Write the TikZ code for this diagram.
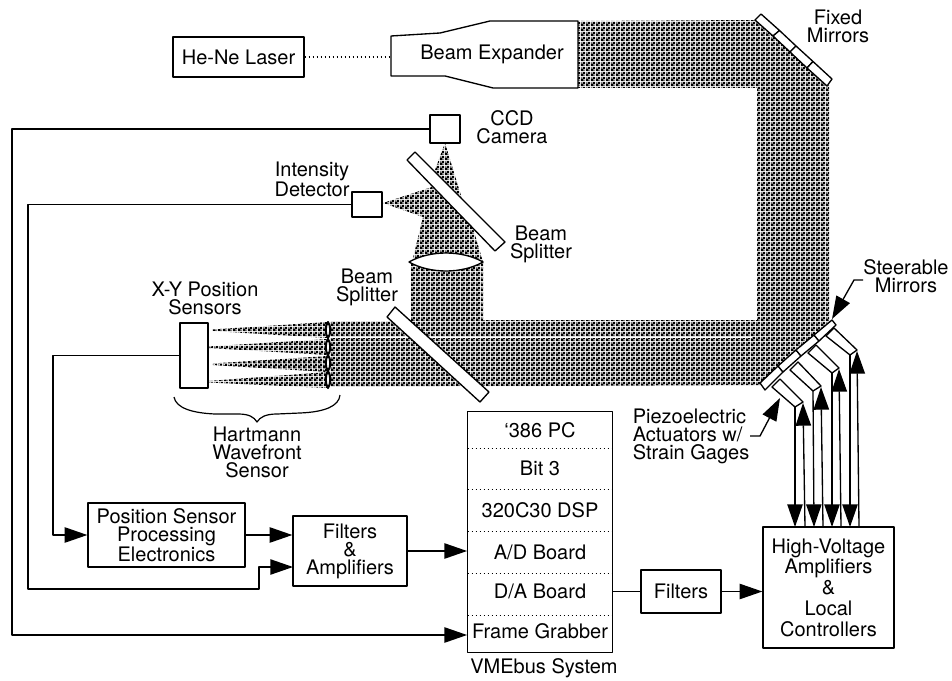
\documentclass[tikz,border=0pt]{standalone}
\usepackage{fontspec}
\setmainfont{TeX Gyre Heros}
\usepackage{tikz}
\usetikzlibrary{arrows.meta,patterns,fit}
\pgfdeclarepatternformonly{beamdots}{\pgfqpoint{0pt}{0pt}}{\pgfqpoint{3.4pt}{3.4pt}}{\pgfqpoint{3.4pt}{3.4pt}}{
  \pgfseteorule
  \pgfpathrectangle{\pgfqpoint{0pt}{0pt}}{\pgfqpoint{3.4pt}{3.4pt}}
  \pgfpathrectangle{\pgfqpoint{0.25pt}{2pt}}{\pgfqpoint{1.2pt}{1.2pt}}
  \pgfpathrectangle{\pgfqpoint{1.95pt}{0.3pt}}{\pgfqpoint{1.2pt}{1.2pt}}
  \pgfusepath{fill}}
\tikzset{
  every picture/.style={line join=round, >={Triangle[length=17pt,width=11.5pt]}},
  every node/.style={font=\fontsize{15}{13.5}\selectfont, align=center, inner sep=0pt},
  wire/.style={line width=1pt},
  optic/.style={draw, fill=white, line width=1pt},
  lenslet/.style={draw, fill=white, line width=1.5pt},
  box/.style={draw, fill=white, line width=1pt},
  beam/.style={pattern=beamdots, pattern color=black},
  slot/.style={minimum width=144*0.75pt},
  sep/.style={dotted, line width=1pt},
}
\begin{document}
\begin{tikzpicture}[x=0.75pt,y=-0.75pt]
\useasboundingbox (0,0) rectangle (952,681);
% beams
\fill[beam] (578,21)--(756,20)--(829,85)--(829,322)--(762,385)--(330,387)--(330,321)--(411,321)--(411,262)--(483,262)--(483,320)--(757,320)--(757,88)--(578,88)--cycle;
\draw[white,line width=0.6pt] (330,337)--(752,337);
\fill[beam] (413,258)--(423,217)--(383,203)--(432,187)--(473,228)--(483,262)--cycle;
\fill[beam] (445,143)--(432,178)--(463,202)--cycle;
\fill[beam] (328,322)--(212,329.5)--(212,331)--(328,338)--cycle;
\fill[beam] (328,339)--(208,346.5)--(208,348)--(328,355)--cycle;
\fill[beam] (328,356)--(212,363.5)--(212,365)--(328,372)--cycle;
\fill[beam] (328,372)--(208,381)--(208,382.5)--(328,388)--cycle;
% lenses and splitters
\draw[optic] (409,262) .. controls (430,250) and (462,250) .. (483,262) .. controls (462,274) and (430,274) .. (409,262) -- cycle;
\draw[optic] (415,152)--(505,242)--(495,251)--(407,160)--cycle;
\draw[optic] (395,307)--(489,392)--(480,402)--(387,317)--cycle;
\draw[lenslet] (328,322) .. controls (331,326) and (331,334) .. (328,338) .. controls (325,334) and (325,326) .. (328,322) -- cycle;
\draw[lenslet] (328,339) .. controls (331,343) and (331,351) .. (328,355) .. controls (325,351) and (325,343) .. (328,339) -- cycle;
\draw[lenslet] (328,355) .. controls (331,359) and (331,367) .. (328,371) .. controls (325,367) and (325,359) .. (328,355) -- cycle;
\draw[lenslet] (328,371) .. controls (331,375) and (331,384) .. (328,388) .. controls (325,384) and (325,375) .. (328,371) -- cycle;
% fixed mirrors
\draw[optic] (761,14)--(779.5,30.5)--(773,36)--(755,20)--cycle;
\draw[optic] (779.5,30.5)--(796,46)--(790,52)--(773,36)--cycle;
\draw[optic] (796,46)--(813,61.5)--(807,68)--(790,52)--cycle;
\draw[optic] (813,61.5)--(832,79)--(827,86)--(807,68)--cycle;
% actuators
\draw[optic] (772,387)--(795,407)--(803,402)--(780,379)--cycle;
\draw[optic] (790,370)--(813,391)--(821,386)--(798,362)--cycle;
\draw[optic] (808,353)--(832,373)--(839,368)--(816,345)--cycle;
\draw[optic] (826,336)--(850,355)--(857,350)--(834,328)--cycle;
% steerable mirrors
\draw[optic] (760,383)--(778,366)--(783,372)--(765,390)--cycle;
\draw[optic] (778,366)--(796,350)--(801,356)--(783,372)--cycle;
\draw[optic] (796,350)--(814,335)--(819,341)--(801,356)--cycle;
\draw[optic] (814,335)--(832,320)--(836,325)--(819,341)--cycle;
% components
\node[box,minimum width=131*0.75pt,minimum height=40*0.75pt] (laser) at (238.5,57) {He-Ne Laser};
\draw[optic] (391,36)--(440,33)--(490,21)--(578,21)--(578,88)--(493,88)--(445,76)--(391,76)--cycle;
\node (expander) at (492,54) {Beam Expander};
\coordinate (expanderin) at (391,57);
\node[box,minimum width=30*0.75pt,minimum height=28*0.75pt] (ccd) at (445,129) {};
\node[box,minimum width=30*0.75pt,minimum height=25*0.75pt] (detector) at (367,204.5) {};
\node[box,minimum width=28*0.75pt,minimum height=65*0.75pt] (sensors) at (194,355.5) {};
\node[box,minimum width=157*0.75pt,minimum height=64*0.75pt] (possensor) at (166.5,535) {Position Sensor\\Processing\\Electronics};
\node[box,minimum width=114*0.75pt,minimum height=70*0.75pt] (filtamp) at (350,551) {Filters\\\&\\Amplifiers};
\node[slot,minimum height=36*0.75pt] (pc) at (540,430) {‘386 PC};
\node[slot,minimum height=41*0.75pt] (bit) at (540,468.5) {Bit 3};
\node[slot,minimum height=42*0.75pt] (dsp) at (540,510) {320C30 DSP};
\node[slot,minimum height=42*0.75pt] (adboard) at (540,552) {A/D Board};
\node[slot,minimum height=42*0.75pt,text depth=4pt] (daboard) at (540,594) {D/A Board};
\node[slot,minimum height=37*0.75pt,text depth=3pt] (grabber) at (540,633.5) {Frame Grabber};
\node[draw,line width=1pt,fit=(pc)(grabber)] (vme) {};
\node[box,minimum width=80*0.75pt,minimum height=43*0.75pt] (filters) at (681,591.5) {Filters};
\node[box,minimum width=131*0.75pt,minimum height=121*0.75pt,font=\fontsize{15}{15.6}\selectfont] (hv) at (828.5,587.5) {High-Voltage\\Amplifiers\\\&\\Local\\Controllers};
\draw[sep] (pc.south west)--(pc.south east);
\draw[sep] (bit.south west)--(bit.south east);
\draw[sep] (dsp.south west)--(dsp.south east);
\draw[sep] (adboard.south west)--(adboard.south east);
\draw[sep] (daboard.south west)--(daboard.south east);
% labels
\node (fixedlabel) at (838,26) {Fixed\\Mirrors};
\node (ccdlabel) at (512,127) {CCD\\Camera};
\node (intensitylabel) at (312,179) {Intensity\\Detector};
\node (splitterA) at (541,244) {Beam\\Splitter};
\node (splitterB) at (367,287) {Beam\\Splitter};
\node (sensorlabel) at (205,298.5) {X-Y Position\\Sensors};
\node (hartmann) at (257,452) {Hartmann\\Wavefront\\Sensor};
\node (steerlabel) at (906,276) {Steerable\\Mirrors};
\node[align=left] (piezolabel) at (691,436) {Piezoelectric\\Actuators w/\\Strain Gages};
\node (vmelabel) at (544,668) {VMEbus System};
% brace
\draw[line width=0.9pt] (174,397) .. controls (176,408) and (192,413) .. (215,414) -- (238,414) .. controls (249,414) and (254,417) .. (257,422) .. controls (260,417) and (266,414) .. (277,414) -- (300,413) .. controls (325,412) and (339,406) .. (340,395);
% wires
\coordinate (ccdtrunk) at (12,635);
\coordinate (dettrunk) at (28,589);
\coordinate (detjog) at (259,589);
\coordinate (sentrunk) at (53,535);
\coordinate (filtampB) at (293,567);
\draw[wire,dotted] (laser.east)--(expanderin);
\draw[wire,->] (ccd.west)-|(ccdtrunk)--(ccdtrunk-|vme.west);
\draw[wire,->] (detector.west)-|(dettrunk)--(detjog)|-(filtampB);
\draw[wire,->] (sensors.west)-|(sentrunk)--(possensor.west);
\draw[wire,->] (possensor.east)--(possensor.east-|filtamp.west);
\draw[wire,->] (filtamp.east)--(filtamp.east-|vme.west);
\draw[wire] (filters.west-|vme.east)--(filters.west);
\draw[wire,->] (filters.east)--(filters.east-|hv.west);
% actuator wires
\coordinate (actdownA) at (795,407);
\coordinate (actdownB) at (813,391);
\coordinate (actdownC) at (832,373);
\coordinate (actdownD) at (850,355);
\coordinate (actupA) at (803,403);
\coordinate (actupB) at (821,387);
\coordinate (actupC) at (839,369);
\coordinate (actupD) at (857,351);
\coordinate (hvoutA) at (795,527);
\coordinate (hvoutB) at (814,527);
\coordinate (hvoutC) at (832,527);
\coordinate (hvoutD) at (850,527);
\coordinate (hvinA) at (805,527);
\coordinate (hvinB) at (823,527);
\coordinate (hvinC) at (841,527);
\coordinate (hvinD) at (859,527);
\draw[wire,->] (actdownA)--(hvoutA);
\draw[wire,->] (actdownB)--(hvoutB);
\draw[wire,->] (actdownC)--(hvoutC);
\draw[wire,->] (actdownD)--(hvoutD);
\draw[wire,->] (hvinA)--(actupA);
\draw[wire,->] (hvinB)--(actupB);
\draw[wire,->] (hvinC)--(actupC);
\draw[wire,->] (hvinD)--(actupD);
% pointers
\coordinate (steerfrom) at (863,280);
\coordinate (steerbend) at (854,280);
\coordinate (steertip) at (832,319);
\coordinate (piezofrom) at (750,436);
\coordinate (piezobend) at (760,436);
\coordinate (piezotip) at (780,398);
\draw[wire,->] (steerfrom)--(steerbend)--(steertip);
\draw[wire,->] (piezofrom)--(piezobend)--(piezotip);
\end{tikzpicture}
\end{document}
